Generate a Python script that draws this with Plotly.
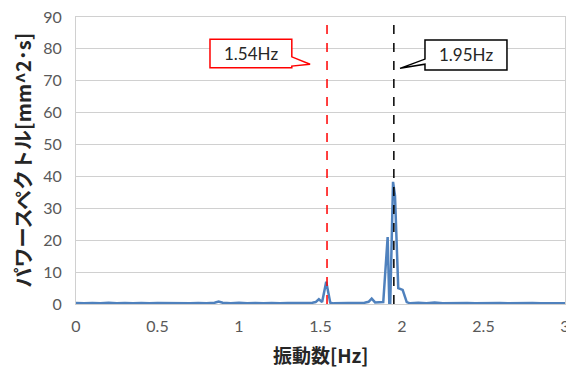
import plotly.graph_objects as go

# ---- data ----
freq = [0.00, 0.05, 0.10, 0.15, 0.20, 0.25, 0.30, 0.35, 0.40, 0.45, 0.50, 0.55,
        0.60, 0.65, 0.70, 0.75, 0.80, 0.85, 0.875, 0.90, 0.95, 1.00, 1.05, 1.10,
        1.15, 1.20, 1.25, 1.30, 1.35, 1.40, 1.45, 1.47, 1.49, 1.51, 1.535, 1.56,
        1.58, 1.62, 1.67, 1.72, 1.77, 1.795, 1.814, 1.835, 1.86, 1.885, 1.912,
        1.922, 1.928, 1.945, 1.957, 1.977, 2.004, 2.029, 2.05, 2.10, 2.15, 2.20,
        2.25, 2.30, 2.35, 2.40, 2.45, 2.50, 2.55, 2.60, 2.65, 2.70, 2.75, 2.80,
        2.85, 2.90, 2.95, 3.00]
power = [0.3, 0.2, 0.35, 0.2, 0.4, 0.2, 0.3, 0.2, 0.35, 0.2, 0.3, 0.25,
         0.2, 0.35, 0.2, 0.3, 0.2, 0.4, 0.8, 0.4, 0.2, 0.4, 0.2, 0.3,
         0.2, 0.35, 0.2, 0.3, 0.2, 0.3, 0.4, 0.6, 1.5, 0.6, 7.0, 0.4,
         0.2, 0.3, 0.3, 0.3, 0.4, 0.7, 1.7, 0.5, 0.5, 0.6, 21.0,
         0.3, 0.3, 38.3, 34.0, 5.0, 4.4, 0.6, 0.2, 0.4, 0.2, 0.5,
         0.2, 0.3, 0.2, 0.3, 0.2, 0.3, 0.2, 0.3, 0.2, 0.3, 0.2, 0.3,
         0.2, 0.2, 0.2, 0.2]
marker_freqs = [1.54, 1.95]
marker_colors = ["#ff0000", "#000000"]
marker_labels = ["1.54Hz", "1.95Hz"]
x_ticks = [0, 0.5, 1, 1.5, 2, 2.5, 3]
x_tick_text = ["0", "0.5", "1", "1.5", "2", "2.5", "3"]
y_ticks = [0, 10, 20, 30, 40, 50, 60, 70, 80, 90]

fig = go.Figure()
fig.add_trace(go.Scatter(x=freq, y=power, mode="lines",
                         line=dict(color="#4f81bd", width=2.5), showlegend=False))

shapes = []
for f, c in zip(marker_freqs, marker_colors):
    shapes.append(dict(type="line", xref="x", yref="y", x0=f, x1=f, y0=0, y1=90,
                       line=dict(color=c, width=1.5, dash="dash"), layer="above"))

# callouts (box + wedge pointer), in data units
red_path = ("M 0.822 83.0 L 1.324 83.0 L 1.324 77.5 L 1.436 75.2 L 1.324 74.6 "
            "L 1.324 74.1 L 0.822 74.1 Z")
blk_path = ("M 2.141 82.8 L 2.644 82.8 L 2.644 73.4 L 2.141 73.4 L 2.141 75.2 "
            "L 1.988 73.9 L 2.141 76.8 Z")
shapes.append(dict(type="path", xref="x", yref="y", path=red_path,
                   line=dict(color="#ff0000", width=1.5), fillcolor="white", layer="above"))
shapes.append(dict(type="path", xref="x", yref="y", path=blk_path,
                   line=dict(color="#000000", width=1.5), fillcolor="white", layer="above"))

annotations = [
    dict(x=1.073, y=78.5, xref="x", yref="y", text=marker_labels[0], showarrow=False,
         font=dict(family="Lato, Open Sans, sans-serif", size=17, color="#262626")),
    dict(x=2.392, y=78.1, xref="x", yref="y", text=marker_labels[1], showarrow=False,
         font=dict(family="Lato, Open Sans, sans-serif", size=17, color="#262626")),
    dict(x=0, y=0.5, xref="paper", yref="paper", xanchor="center",
         yanchor="middle", xshift=-54, textangle=-90, showarrow=False,
         text="<b>パワースペクトル[mm^2･s]</b>",
         font=dict(family="Noto Sans CJK JP", size=20, color="#262626")),
    dict(x=0.5, y=0, xref="paper", yref="paper", xanchor="center",
         yanchor="middle", yshift=-50, showarrow=False,
         text="<b>振動数[Hz]</b>",
         font=dict(family="Noto Sans CJK JP", size=19, color="#262626")),
]

# page body has an 8px margin, so the figure is sized/offset to compensate
fig.update_layout(
    width=566, height=361,
    margin=dict(l=68, r=9, t=9, b=65),
    paper_bgcolor="white", plot_bgcolor="white",
    shapes=shapes, annotations=annotations,
    font=dict(family="Lato, Open Sans, sans-serif", size=16, color="#595959"),
    xaxis=dict(range=[0, 3], tickvals=x_ticks, ticktext=x_tick_text, automargin=False,
               showgrid=False, zeroline=False, showline=True, mirror=True,
               linecolor="#d0d0d0", linewidth=1, ticks="outside", ticklen=8,
               tickcolor="rgba(0,0,0,0)", ticklabeloverflow="allow"),
    yaxis=dict(range=[0, 90], tickvals=y_ticks, showgrid=True, gridcolor="#d0d0d0",
               gridwidth=1, zeroline=False, showline=True, mirror=True, automargin=False,
               linecolor="#d0d0d0", linewidth=1, ticks="outside", ticklen=10,
               tickcolor="rgba(0,0,0,0)", ticklabeloverflow="allow"),
)

fig.write_html("out.html")
